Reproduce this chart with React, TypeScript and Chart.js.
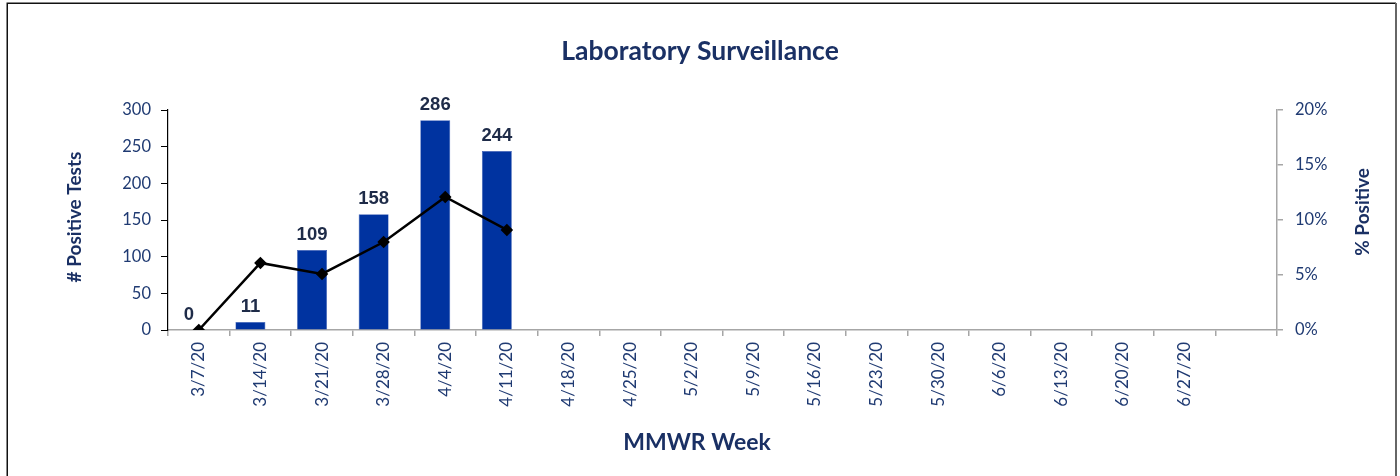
import React, { useEffect, useRef } from "react";
import { Chart, registerables } from "chart.js";

Chart.register(...registerables);

const weekLabels = [
  "3/7/20", "3/14/20", "3/21/20", "3/28/20", "4/4/20", "4/11/20", "4/18/20",
  "4/25/20", "5/2/20", "5/9/20", "5/16/20", "5/23/20", "5/30/20", "6/6/20",
  "6/13/20", "6/20/20", "6/27/20", "",
];
const positiveTests = [0, 11, 109, 158, 286, 244, null, null, null, null, null, null, null, null, null, null, null, null];
const percentPositive = [0, 0.061, 0.051, 0.08, 0.121, 0.091, null, null, null, null, null, null, null, null, null, null, null, null];
const emptySeries = weekLabels.map(() => null);
const leftTicks = [0, 50, 100, 150, 200, 250, 300];

const chartTitle = "Laboratory Surveillance";
const leftTitle = "# Positive Tests";
const rightTitle = "% Positive";
const xTitle = "MMWR Week";

const NAVY = "#1a3064";
const TICK = "#1f3a72";
const BAR = "#0033a0";

const decorPlugin = {
  id: "decor",
  beforeDraw(chart: any) {
    const ctx = chart.ctx;
    ctx.save();
    ctx.fillStyle = "#ffffff";
    ctx.fillRect(0, 0, chart.width, chart.height);
    ctx.strokeStyle = "#111111";
    ctx.lineWidth = 1.5;
    ctx.beginPath();
    ctx.moveTo(7.25, chart.height + 2);
    ctx.lineTo(7.25, 3.25);
    ctx.lineTo(1396, 3.25);
    ctx.stroke();
    ctx.strokeStyle = "#666666";
    ctx.lineWidth = 2;
    ctx.beginPath();
    ctx.moveTo(1396, 3);
    ctx.lineTo(1396, chart.height + 2);
    ctx.stroke();
    ctx.restore();
  },
  afterDraw(chart: any) {
    const ctx = chart.ctx;
    ctx.save();
    ctx.fillStyle = NAVY;
    ctx.textAlign = "center";
    ctx.textBaseline = "middle";
    ctx.font = "bold 26.5px Lato";
    ctx.fillText(chartTitle, 700, 51);
    ctx.font = "bold 23px Lato";
    ctx.fillText(xTitle, 697, 443);
    ctx.font = "bold 19px Lato";
    ctx.translate(75, 217);
    ctx.rotate(-Math.PI / 2);
    ctx.fillText(leftTitle, 0, 0);
    ctx.restore();
    ctx.save();
    ctx.fillStyle = NAVY;
    ctx.textAlign = "center";
    ctx.textBaseline = "middle";
    ctx.font = "bold 19px Lato";
    ctx.translate(1363, 212);
    ctx.rotate(-Math.PI / 2);
    ctx.fillText(rightTitle, 0, 0);
    ctx.restore();
  },
  afterDatasetsDraw(chart: any) {
    const ctx = chart.ctx;
    const meta = chart.getDatasetMeta(1);
    ctx.save();
    ctx.fillStyle = "#1e2b48";
    ctx.font = "bold 18.5px 'Liberation Sans', Arial";
    ctx.textAlign = "center";
    ctx.textBaseline = "alphabetic";
    meta.data.forEach((el: any, i: number) => {
      const v = positiveTests[i];
      if (v === null || v === undefined) return;
      ctx.fillText(String(v), el.x, el.y - 10);
    });
    ctx.restore();
  },
};

export default function App() {
  const ref = useRef<HTMLCanvasElement>(null);
  useEffect(() => {
    if (!ref.current) return;
    const chart = new Chart(ref.current, {
      type: "bar",
      data: {
        labels: weekLabels,
        datasets: [
          {
            type: "line",
            data: percentPositive as any,
            yAxisID: "y1",
            borderColor: "#000000",
            backgroundColor: "#000000",
            borderWidth: 2.5,
            pointStyle: "rectRot",
            pointRadius: 4.5,
            pointBackgroundColor: "#000000",
            pointBorderColor: "#000000",
            tension: 0,
            spanGaps: false,
            order: 0,
          } as any,
          {
            type: "bar",
            data: positiveTests as any,
            yAxisID: "y",
            backgroundColor: BAR,
            borderColor: "#3d5fb5",
            borderWidth: 0.6,
            categoryPercentage: 0.649,
            barPercentage: 1.5,
            order: 1,
          } as any,
          {
            type: "bar",
            data: emptySeries as any,
            yAxisID: "y",
            backgroundColor: BAR,
            categoryPercentage: 0.649,
            barPercentage: 1.5,
            order: 2,
          } as any,
        ],
      },
      options: {
        responsive: false,
        animation: false,
        devicePixelRatio: 1,
        layout: { padding: { top: 110, left: 0, right: 0, bottom: 0 } },
        plugins: {
          legend: { display: false },
          title: { display: false },
          tooltip: { enabled: false },
        },
        scales: {
          x: {
            type: "category",
            offset: true,
            grid: {
              offset: true,
              drawOnChartArea: false,
              drawTicks: true,
              tickLength: 6,
              color: "#a6a6a6",
              lineWidth: 1.5,
            },
            border: { display: true, color: "#a6a6a6", width: 1.5 },
            ticks: {
              color: TICK,
              font: { family: "Lato", size: 17 },
              minRotation: 90,
              maxRotation: 90,
              autoSkip: false,
              padding: 6,
            },
            afterFit(scale: any) {
              scale.height = 146;
            },
          },
          y: {
            type: "linear",
            position: "left",
            min: 0,
            max: 300,
            afterBuildTicks(scale: any) {
              scale.ticks = leftTicks.map((v) => ({ value: v }));
            },
            grid: {
              drawOnChartArea: false,
              drawTicks: true,
              tickLength: 7,
              color: "#000000",
              lineWidth: 1,
            },
            border: { display: true, color: "#000000", width: 1.2 },
            ticks: {
              color: TICK,
              font: { family: "Lato", size: 16.5 },
              padding: 10,
            },
            afterFit(scale: any) {
              scale.width = 168;
            },
          },
          y1: {
            type: "linear",
            position: "right",
            min: 0,
            max: 0.2,
            grid: {
              drawOnChartArea: false,
              drawTicks: true,
              tickLength: 6,
              color: "#a6a6a6",
              lineWidth: 1.5,
            },
            border: { display: true, color: "#a6a6a6", width: 1.5 },
            ticks: {
              stepSize: 0.05,
              color: TICK,
              font: { family: "Lato", size: 16.5 },
              padding: 12,
              callback: (v: any) => Math.round(Number(v) * 100) + "%",
            },
            afterFit(scale: any) {
              scale.width = 123;
            },
          },
        },
      } as any,
      plugins: [decorPlugin],
    });
    return () => chart.destroy();
  }, []);
  return (
    <div style={{ position: "absolute", left: 0, top: 0, width: 1400, height: 476, background: "#fff" }}>
      <canvas ref={ref} width={1400} height={476} style={{ display: "block" }} />
    </div>
  );
}
